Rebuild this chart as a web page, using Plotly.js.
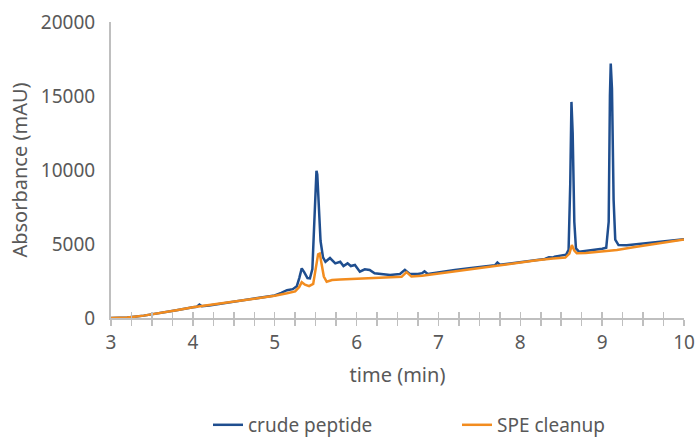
<!DOCTYPE html>
<html>
<head>
<meta charset="utf-8">
<script src="https://cdn.plot.ly/plotly-3.0.1.min.js"></script>
<style>html,body{margin:0;padding:0;background:#fff;}#chart{width:696px;height:439px;}</style>
</head>
<body>
<div id="chart"></div>
<script>
// crude peptide chromatogram
const crudeTime = [3.0,3.2,3.4,3.6,3.8,4.0,4.05,4.08,4.11,4.2,4.4,4.6,4.8,5.0,5.08,5.15,5.22,5.27,5.30,5.33,5.36,5.40,5.43,5.46,5.48,5.50,5.51,5.52,5.54,5.56,5.59,5.62,5.675,5.74,5.80,5.84,5.89,5.93,5.98,6.04,6.10,6.16,6.22,6.30,6.41,6.53,6.59,6.65,6.75,6.80,6.83,6.87,7.0,7.2,7.4,7.6,7.69,7.72,7.75,7.9,8.1,8.3,8.35,8.4,8.42,8.5,8.56,8.59,8.61,8.625,8.64,8.66,8.68,8.72,8.8,8.9,9.0,9.05,9.08,9.095,9.105,9.12,9.14,9.16,9.2,9.3,9.5,9.7,9.9,10.0];
const crudeAbs = [0,30,160,320,530,720,760,900,790,850,1010,1180,1340,1520,1700,1880,1950,2150,2700,3350,3100,2700,2680,3300,6000,9300,9950,9700,7500,5200,4100,3800,4050,3690,3800,3510,3690,3510,3580,3130,3290,3240,3020,2950,2900,2970,3250,2980,2970,3030,3150,2980,3100,3250,3380,3500,3560,3750,3600,3700,3830,3990,4100,4080,4150,4220,4280,4600,9000,14600,12500,6500,4700,4470,4520,4600,4680,4750,6500,15000,17200,15500,8000,5300,4930,4920,5040,5150,5290,5330];
// SPE cleanup chromatogram
const speTime = [3.0,3.2,3.4,3.6,3.8,4.0,4.2,4.4,4.6,4.8,5.0,5.15,5.25,5.30,5.33,5.37,5.42,5.47,5.50,5.53,5.55,5.57,5.60,5.635,5.70,5.8,5.9,6.0,6.1,6.25,6.4,6.55,6.61,6.67,6.8,7.0,7.2,7.4,7.6,7.8,8.0,8.2,8.4,8.55,8.60,8.63,8.66,8.69,8.8,9.0,9.18,9.4,9.6,9.8,10.0];
const speAbs = [0,30,160,315,520,720,870,1050,1200,1340,1500,1670,1800,2100,2420,2250,2150,2300,3200,4300,4350,3800,2800,2450,2570,2600,2620,2640,2680,2720,2740,2780,3100,2800,2850,3000,3180,3330,3470,3620,3760,3900,4020,4080,4350,4930,4550,4370,4400,4500,4590,4800,4980,5150,5300];
const seriesNames = ["crude peptide", "SPE cleanup"];
const xTickVals = [3,4,5,6,7,8,9,10];
const yTickVals = [0,5000,10000,15000,20000];
const yTickText = ["0","5000","10000","15000","20000"];

const fontFam = "Noto Sans, Open Sans, sans-serif";
const txt = "#595959";
const axisCol = "#bfbfbf";

const traces = [
  {x: crudeTime, y: crudeAbs, name: seriesNames[0], type: "scatter", mode: "lines",
   line: {color: "#1f4e8f", width: 2.5}, legend: "legend"},
  {x: speTime, y: speAbs, name: seriesNames[1], type: "scatter", mode: "lines",
   line: {color: "#f28c1f", width: 2.5}, legend: "legend2"},
  {x: [3], y: [0], xaxis: "x2", yaxis: "y", type: "scatter", mode: "markers",
   marker: {opacity: 0}, showlegend: false, hoverinfo: "skip"}
];

const legCommon = {orientation: "h", xref: "container", yref: "container", yanchor: "middle",
                   y: 0.032, xanchor: "left", font: {size: 19, color: txt}, bgcolor: "rgba(0,0,0,0)"};

const layout = {
  width: 696, height: 439,
  margin: {l: 111, r: 12, t: 22, b: 121},
  paper_bgcolor: "#fff", plot_bgcolor: "#fff",
  font: {family: fontFam, color: txt, size: 19},
  showlegend: true,
  legend: Object.assign({}, legCommon, {x: 208/696}),
  legend2: Object.assign({}, legCommon, {x: 457/696}),
  xaxis: {range: [3, 10], tickvals: xTickVals, showgrid: false, zeroline: false, automargin: false,
          showline: true, linecolor: axisCol, linewidth: 2,
          ticks: "outside", ticklen: 6, tickcolor: axisCol, tickwidth: 1.5,
          minor: {dtick: 0.25, ticks: "outside", ticklen: 6, tickcolor: axisCol, tickwidth: 1.5},
          tickfont: {size: 19, color: txt},
          title: {text: "time (min)", font: {size: 20, color: txt}, standoff: 14}},
  xaxis2: {range: [3, 10], overlaying: "x", anchor: "y", side: "bottom", automargin: false,
           tickvals: xTickVals, showticklabels: false, showgrid: false, zeroline: false,
           showline: false, ticks: "inside", ticklen: 6, tickcolor: axisCol, tickwidth: 1.5,
           minor: {dtick: 0.25, ticks: "inside", ticklen: 6, tickcolor: axisCol, tickwidth: 1.5}},
  yaxis: {range: [0, 20000], tickvals: yTickVals, ticktext: yTickText, showgrid: false, zeroline: false,
          automargin: false, showline: true, linecolor: axisCol, linewidth: 2, ticks: "",
          tickfont: {size: 19, color: txt}, ticklabelstandoff: 10,
          title: {text: "Absorbance (mAU)", font: {size: 20, color: txt}, standoff: 8}}
};

Plotly.newPlot("chart", traces, layout, {displayModeBar: false, staticPlot: true});
</script>
</body>
</html>
